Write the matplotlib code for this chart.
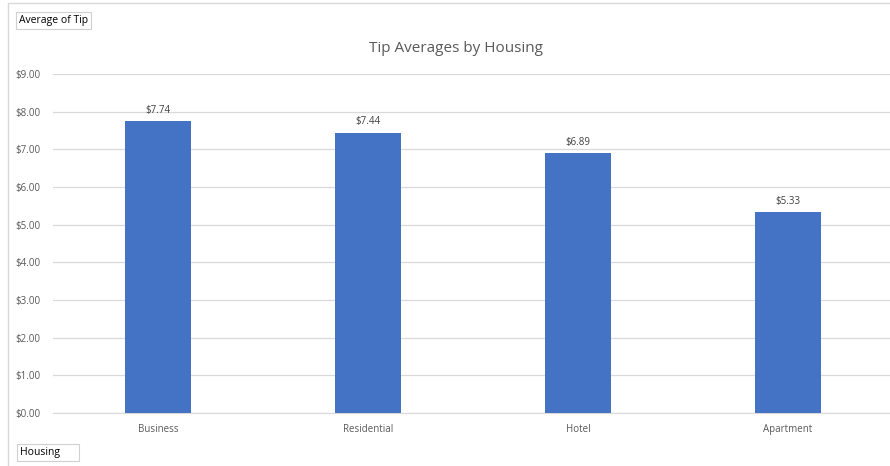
import numpy as np
import matplotlib
matplotlib.use("Agg")
import matplotlib.pyplot as plt
from matplotlib.patches import Rectangle

plt.rcParams['font.family'] = ['Open Sans', 'DejaVu Sans']

housing = ["Business", "Residential", "Hotel", "Apartment"]
avg_tip = [7.74, 7.44, 6.89, 5.33]
y_ticks = [0, 1, 2, 3, 4, 5, 6, 7, 8, 9]

W, H = 890, 466
fig = plt.figure(figsize=(W / 100, H / 100), dpi=100)

# chart area border
fig.patches.append(Rectangle((8 / W, -0.1), 1.0, (H - 3) / H + 0.1, transform=fig.transFigure,
                             fill=False, edgecolor="#d9d9d9", linewidth=1))

ax = fig.add_axes([53 / W, 53 / H, 840 / W, 339 / H])
x = np.arange(len(housing))
ax.bar(x, avg_tip, width=0.315, color="#4472C4", zorder=3)
ax.set_xlim(-0.5, 3.5)
ax.set_ylim(0, 9)
ax.set_yticks(y_ticks)
ax.set_yticklabels(["${:.2f}".format(v) for v in y_ticks])
ax.set_xticks(x)
ax.set_xticklabels(housing)
ax.tick_params(axis="both", length=0, labelsize=7, colors="#595959")
ax.tick_params(axis="y", pad=9)
ax.tick_params(axis="x", pad=8)
ax.grid(axis="y", color="#d9d9d9", linewidth=0.9, zorder=0)
for s in ["top", "right", "left"]:
    ax.spines[s].set_visible(False)
ax.spines["bottom"].set_color("#d9d9d9")

for xi, v in zip(x, avg_tip):
    ax.text(xi, v + 0.15, "${:.2f}".format(v), ha="center", va="bottom",
            fontsize=7, color="#404040")

fig.text(456 / W, 1 - 49 / H, "Tip Averages by Housing", ha="center", va="center",
         fontsize=11, color="#595959")

fig.text(19 / W, 1 - 20.5 / H, "Average of Tip", ha="left", va="center", fontsize=7.5,
         color="black", bbox=dict(boxstyle="square,pad=0.25", fc="white", ec="#d0d0d0", lw=0.8))
fig.text(20 / W, 1 - 452.5 / H, "Housing      ", ha="left", va="center", fontsize=7.5,
         color="black", bbox=dict(boxstyle="square,pad=0.25", fc="white", ec="#d0d0d0", lw=0.8))

fig.savefig("out.png", dpi=100)
